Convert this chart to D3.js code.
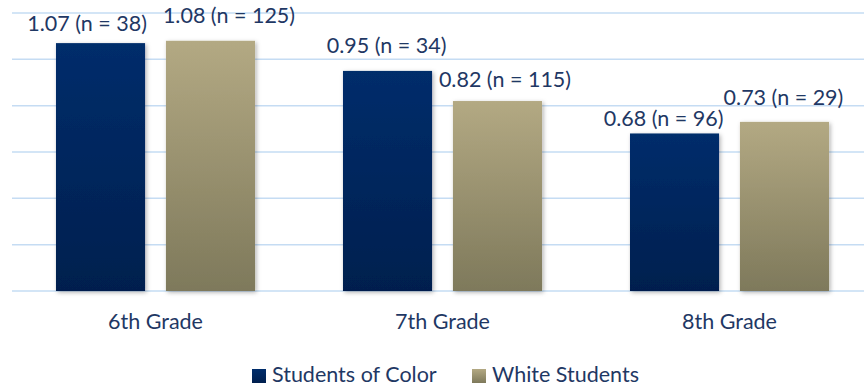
<!DOCTYPE html>
<html>
<head>
<meta charset="utf-8">
<script src="https://cdn.jsdelivr.net/npm/d3@7"></script>
<style>
  html, body { margin: 0; padding: 0; background: #fff; }
  svg { display: block; }
  text { font-family: Lato, "Open Sans", sans-serif; fill: #1f3864; }
</style>
</head>
<body>
<svg id="chart" width="864" height="389"></svg>
<script>
// Average scores by grade, split by student group
const grades = ["6th Grade", "7th Grade", "8th Grade"];
const seriesNames = ["Students of Color", "White Students"];
const colorValues = [1.07, 0.95, 0.68];
const colorCounts = [38, 34, 96];
const whiteValues = [1.08, 0.82, 0.73];
const whiteCounts = [125, 115, 29];
const yTicks = [0, 0.2, 0.4, 0.6, 0.8, 1.0, 1.2];

// value-label placement: [horizontal nudge, baseline offset above bar top]
const labelPlace = [
  [[-13.5, -12], [18.5, -18]],
  [[-1, -18], [7.5, -14]],
  [[-11, -7], [-1, -17]]
];

const svg = d3.select("#chart");
const W = 864;
const plot = { left: 12, right: 873, top: 13, bottom: 291 };
const FS = 21.5;

const x0 = d3.scaleBand().domain(grades).range([plot.left, plot.right]);
const x1 = d3.scaleBand().domain(seriesNames).range([0, x0.bandwidth()]).paddingInner(0.19).paddingOuter(0.4);
const y = d3.scaleLinear().domain([0, 1.2]).range([plot.bottom, plot.top]);

const defs = svg.append("defs");
const grads = [
  { id: "gNavy", top: "#002d6b", bottom: "#001f4e" },
  { id: "gTan", top: "#b3a983", bottom: "#7e795b" }
];
grads.forEach(g => {
  const lg = defs.append("linearGradient").attr("id", g.id).attr("x1", 0).attr("y1", 0).attr("x2", 0).attr("y2", 1);
  lg.append("stop").attr("offset", "0%").attr("stop-color", g.top);
  lg.append("stop").attr("offset", "100%").attr("stop-color", g.bottom);
});
const shadow = defs.append("filter").attr("id", "shadow").attr("x", "-10%").attr("y", "-10%").attr("width", "130%").attr("height", "130%");
shadow.append("feDropShadow").attr("dx", 1.5).attr("dy", 1.5).attr("stdDeviation", 2).attr("flood-color", "#000").attr("flood-opacity", 0.3);

// horizontal gridlines
svg.append("g").selectAll("line").data(yTicks).join("line")
  .attr("x1", plot.left).attr("x2", W)
  .attr("y1", d => y(d)).attr("y2", d => y(d))
  .attr("stroke", "#c5dcf3").attr("stroke-width", 1.5);

const rows = grades.map((g, i) => ({
  grade: g,
  items: [
    { s: seriesNames[0], v: colorValues[i], n: colorCounts[i], fill: "url(#gNavy)", place: labelPlace[i][0] },
    { s: seriesNames[1], v: whiteValues[i], n: whiteCounts[i], fill: "url(#gTan)", place: labelPlace[i][1] }
  ]
}));

const groups = svg.append("g").selectAll("g").data(rows).join("g")
  .attr("transform", d => `translate(${x0(d.grade)},0)`);

groups.selectAll("rect").data(d => d.items).join("rect")
  .attr("x", d => x1(d.s))
  .attr("y", d => y(d.v))
  .attr("width", x1.bandwidth())
  .attr("height", d => y(0) - y(d.v))
  .attr("fill", d => d.fill)
  .attr("filter", "url(#shadow)");

groups.selectAll("text.val").data(d => d.items).join("text")
  .attr("class", "val")
  .attr("x", d => x1(d.s) + x1.bandwidth() / 2 + d.place[0])
  .attr("y", d => y(d.v) + d.place[1])
  .attr("text-anchor", "middle")
  .attr("font-size", FS)
  .text(d => `${d.v.toFixed(2)} (n = ${d.n})`);

// category axis labels
const xAxis = d3.axisBottom(x0).tickSize(0).tickPadding(0);
const ax = svg.append("g").attr("transform", `translate(0,${plot.bottom})`).call(xAxis);
ax.select(".domain").remove();
ax.selectAll("text")
  .attr("y", 38).attr("dy", null)
  .attr("font-size", FS)
  .style("fill", "#1f3864")
  .style("font-family", "Lato, sans-serif");

// legend
const legendItems = [
  { name: seriesNames[0], fill: "url(#gNavy)", x: 252 },
  { name: seriesNames[1], fill: "url(#gTan)", x: 472 }
];
const lg = svg.append("g").selectAll("g").data(legendItems).join("g")
  .attr("transform", d => `translate(${d.x},369)`);
lg.append("rect").attr("width", 14).attr("height", 14).attr("fill", d => d.fill);
lg.append("text").attr("x", 20).attr("y", 13).attr("font-size", FS).text(d => d.name);
</script>
</body>
</html>
